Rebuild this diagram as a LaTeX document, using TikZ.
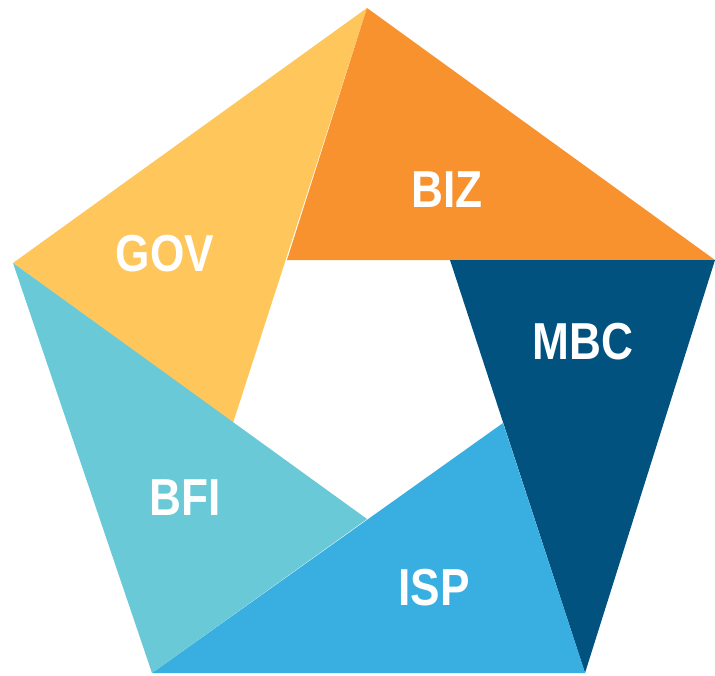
\documentclass[tikz,border=0pt]{standalone}
\usepackage{fontspec}
\newfontfamily\lblfont{Liberation Sans}[FakeStretch=0.85]
\definecolor{cbiz}{HTML}{F7922F}
\definecolor{cmbc}{HTML}{02527F}
\definecolor{cisp}{HTML}{38AFE0}
\definecolor{cbfi}{HTML}{69C9D6}
\definecolor{cgov}{HTML}{FEC65B}
\begin{document}
\begin{tikzpicture}[x=1pt,y=-1pt,
  lbl/.style={text=white,font=\lblfont\bfseries\fontsize{52}{52}\selectfont,inner sep=0pt}]
\useasboundingbox (0,0) rectangle (715,675);
% outer vertices
\coordinate (T) at (367,8);
\coordinate (R) at (715,260);
\coordinate (BR) at (585,673);
\coordinate (BL) at (152,673);
\coordinate (L) at (13,263);
% inner vertices
\coordinate (iTL) at (287,260);
\coordinate (iTR) at (450,260);
\coordinate (iR) at (503,423);
\coordinate (iB) at (367,519);
\coordinate (iL) at (233,423);
\fill[cgov] (L) -- (T) -- (iL) -- cycle;
\fill[cbiz] (T) -- (R) -- (iTL) -- cycle;
\fill[cmbc] (iTR) -- (R) -- (BR) -- cycle;
\fill[cisp] (iR) -- (BR) -- (BL) -- cycle;
\fill[cbfi] (L) -- (iB) -- (BL) -- cycle;
\node[lbl] (biz) at (447,190) {BIZ};
\node[lbl] (mbc) at (583,342) {MBC};
\node[lbl] (gov) at (165,254) {GOV};
\node[lbl] (bfi) at (185,498) {BFI};
\node[lbl] (isp) at (434,588) {ISP};
\end{tikzpicture}
\end{document}
